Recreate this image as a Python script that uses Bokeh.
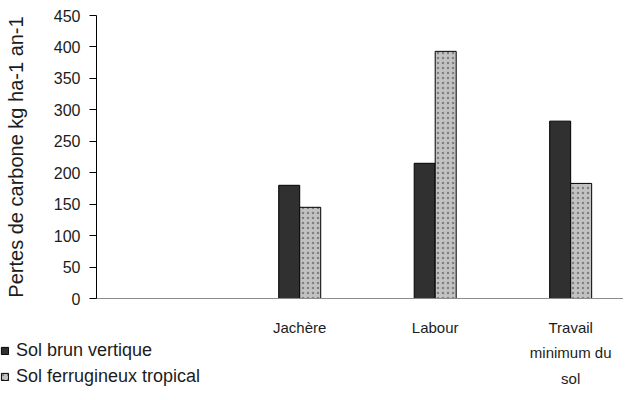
from bokeh.plotting import figure
from bokeh.layouts import row
from bokeh.models import ColumnDataSource, Range1d, FixedTicker, Legend, LegendItem
from bokeh.transform import dodge
from bokeh.embed import file_html
from bokeh.resources import INLINE

categories = ["", "Jachère", "Labour", "Travail\nminimum du\nsol"]
sol_brun_vertique = [None, 180, 215, 282]
sol_ferrugineux_tropical = [None, 145, 393, 183]
series_names = ["Sol brun vertique", "Sol ferrugineux tropical"]
y_ticks = [0, 50, 100, 150, 200, 250, 300, 350, 400, 450]

pos = [i + 0.5 for i in range(len(categories))]
keep = [i for i in range(len(categories)) if sol_brun_vertique[i] is not None]
src = ColumnDataSource(dict(
    x=[pos[i] for i in keep],
    brun=[sol_brun_vertique[i] for i in keep],
    ferr=[sol_ferrugineux_tropical[i] for i in keep],
))

FONT = "Liberation Sans"
TXT = "#1c1c1c"
DARK = dict(fill_color="#2f302f", line_color="#000000", line_width=1)
LIGHT = dict(fill_color="#c2c2c2", line_color="#000000", line_width=1,
             hatch_pattern="dot", hatch_color="#6a6a6a", hatch_alpha=0.75, hatch_scale=5)

p = figure(title=None, frame_width=527, frame_height=283, output_backend="svg", toolbar_location=None,
           x_range=Range1d(0, 3.89), y_range=Range1d(0, 450),
           min_border_left=96, min_border_top=15, min_border_right=0, min_border_bottom=0)
p.outline_line_color = None
p.border_fill_alpha = 0
p.xgrid.visible = False
p.ygrid.visible = False

bw = 0.155
p.vbar(x=dodge("x", -bw / 2, range=p.x_range), top="brun", width=bw, source=src, **DARK)
p.vbar(x=dodge("x", bw / 2, range=p.x_range), top="ferr", width=bw, source=src, **LIGHT)

p.yaxis.ticker = FixedTicker(ticks=y_ticks)
p.yaxis.axis_label = "Pertes de carbone kg ha-1 an-1"
p.yaxis.axis_label_text_font = FONT
p.yaxis.axis_label_text_font_style = "normal"
p.yaxis.axis_label_text_font_size = "20px"
p.yaxis.axis_label_text_color = TXT
p.yaxis.axis_label_standoff = 24
p.yaxis.major_label_text_font = FONT
p.yaxis.major_label_text_font_size = "16px"
p.yaxis.major_label_text_color = TXT
p.yaxis.major_tick_out = 7
p.yaxis.major_tick_in = 0
p.yaxis.minor_tick_out = 0
p.yaxis.minor_tick_in = 0
p.yaxis.axis_line_color = "#000000"
p.yaxis.major_tick_line_color = "#000000"
p.yaxis.major_label_standoff = 9

p.xaxis.ticker = FixedTicker(ticks=pos)
p.xaxis.major_label_overrides = {pos[i]: categories[i] for i in range(len(categories))}
p.xaxis.major_label_text_font = FONT
p.xaxis.major_label_text_font_size = "15px"
p.xaxis.major_label_text_color = TXT
p.xaxis.major_label_text_line_height = 1.5
p.xaxis.major_tick_out = 0
p.xaxis.major_tick_in = 0
p.xaxis.minor_tick_out = 0
p.xaxis.minor_tick_in = 0
p.xaxis.axis_line_color = "#8c8c8c"
p.xaxis.major_label_standoff = 20

# Legend lives in the side panel (not clipped) of a small transparent figure
# that overlaps the bottom-left corner of the chart
leg_w = 250
lf = figure(title=None, width=leg_w, height=66, output_backend="svg", toolbar_location=None,
            x_range=Range1d(0, 1), y_range=Range1d(0, 1),
            x_axis_location=None, y_axis_location=None,
            min_border_left=0, min_border_right=0, min_border_top=0, min_border_bottom=0)
lf.outline_line_color = None
lf.background_fill_alpha = 0
lf.border_fill_alpha = 0
lf.xgrid.visible = False
lf.ygrid.visible = False
g1 = lf.vbar(x="x", top="brun", width=bw, source=src, **DARK)
g2 = lf.vbar(x="x", top="ferr", width=bw, source=src, **LIGHT)

legend = Legend(items=[
    LegendItem(label=series_names[0], renderers=[g1]),
    LegendItem(label=series_names[1], renderers=[g2]),
], location="top_left", orientation="vertical")
legend.glyph_width = 9
legend.glyph_height = 9
legend.label_height = 20
legend.spacing = 5
legend.padding = 0
legend.margin = 0
legend.label_standoff = 7
legend.label_text_font = FONT
legend.label_text_font_size = "18px"
legend.label_text_color = TXT
legend.border_line_color = None
legend.background_fill_alpha = 0
lf.add_layout(legend, "left")
lf.margin = (334, -leg_w, 0, 0)
p.margin = (0, 0, 0, 0)

layout = row(lf, p)
layout.spacing = 0

open("out.html", "w").write(file_html(layout, INLINE))
